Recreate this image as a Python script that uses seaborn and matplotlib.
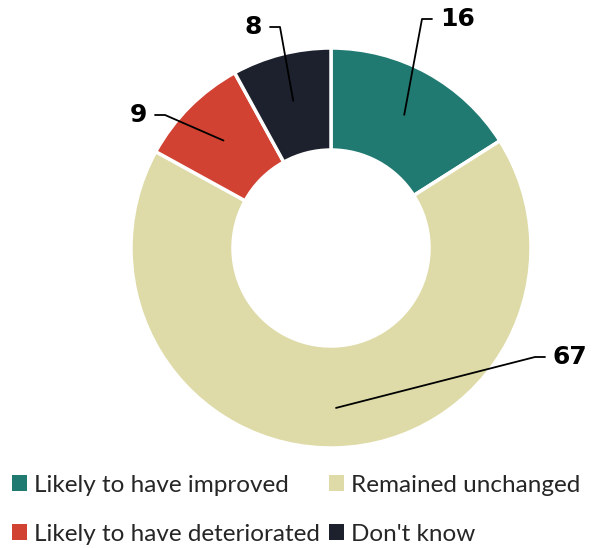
import numpy as np
import matplotlib
matplotlib.use("Agg")
import matplotlib.pyplot as plt
from matplotlib.patches import Patch
import seaborn as sns

# data
categories = ["Likely to have improved", "Remained unchanged",
              "Likely to have deteriorated", "Don't know"]
values = [16, 67, 9, 8]
colors = ["#217a72", "#dedba8", "#d14232", "#1c212d"]

# label elbows / text anchors (axes data units, radius = 1)
elbow_pts = [(0.455, 1.145), (1.02, -0.545), (-0.83, 0.665), (-0.255, 1.105)]
text_side = [1, 1, -1, -1]
anchor_r = [0.76, 0.8, 0.76, 0.76]

sns.set_theme(style="white")
plt.rcParams["font.family"] = ["Lato", "DejaVu Sans"]

fig = plt.figure(figsize=(5.94, 5.48), dpi=100)
ax = fig.add_axes([131 / 594, 100 / 548, 400 / 594, 400 / 548])

wedges, _ = ax.pie(values, colors=colors, startangle=90, counterclock=False,
                   radius=1, wedgeprops=dict(width=0.51, edgecolor="white", linewidth=2.5))
ax.set_xlim(-1, 1)
ax.set_ylim(-1, 1)
ax.set_aspect("equal")
ax.axis("off")

# leader lines + value labels
for w, v, (ex, ey), side, r in zip(wedges, values, elbow_pts, text_side, anchor_r):
    ang = np.deg2rad((w.theta1 + w.theta2) / 2)
    px, py = r * np.cos(ang), r * np.sin(ang)
    hx = ex + side * 0.05
    ax.plot([px, ex, hx], [py, ey, ey], color="black", lw=1.3, clip_on=False)
    ax.text(hx + side * 0.04, ey, str(v), ha="left" if side > 0 else "right",
            va="center", fontsize=18, fontweight="bold",
            family=["DejaVu Sans"], color="black", clip_on=False)

# legend at bottom
order = [0, 2, 1, 3]
handles = [Patch(facecolor=colors[i], edgecolor="none") for i in order]
labels = [categories[i] for i in order]
fig.legend(handles, labels, ncol=2, loc="lower left", bbox_to_anchor=(0.004, -0.012),
           frameon=False, fontsize=17.5, handlelength=0.62, handleheight=0.62,
           handletextpad=0.3, columnspacing=0.35, labelspacing=1.15,
           borderaxespad=0.0, borderpad=0.4)

fig.savefig("out.png", dpi=100)
